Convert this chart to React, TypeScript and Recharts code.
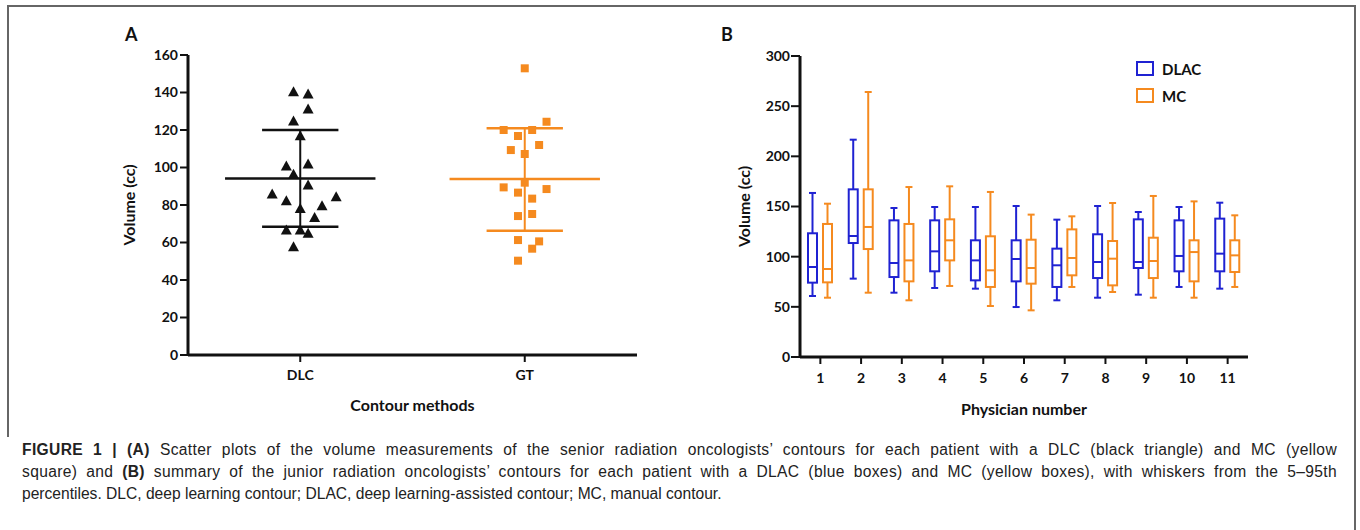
import React from "react";
import { ScatterChart, Scatter, XAxis, YAxis, ReferenceLine, BarChart, Bar, Legend } from "recharts";

const FONT = "Lato, 'Open Sans', sans-serif";
const BLUE = "#1f22d2";
const ORANGE = "#f58a1f";

// panel A: volumes per patient and horizontal jitter (category units)
const methods = ["DLC", "GT"];
const dlcVolumes = [140.4, 139.2, 131.2, 124.8, 117, 100.8, 101.9, 96.4, 90.7, 85.9, 84.4, 82.3, 79.6, 78.2, 73.4, 66.7, 66.7, 64.9, 57.8];
const dlcJitter = [-0.03, 0.035, 0.035, -0.03, 0, -0.062, 0.035, -0.03, 0.035, -0.125, 0.16, -0.062, 0.097, 0, 0.064, -0.062, 0, 0.035, -0.03];
const gtVolumes = [152.9, 124.4, 120, 120, 116.8, 112, 109.3, 107.2, 91.9, 89.4, 88.5, 86.6, 83.4, 75.2, 74.1, 61.3, 60.6, 56.7, 50.3];
const gtJitter = [0, 0.097, -0.094, 0.033, -0.03, 0.064, -0.062, 0, 0, -0.094, 0.097, -0.03, 0.033, 0.033, -0.03, -0.03, 0.064, 0.033, -0.03];
const methodMean = [94.2, 93.9];
const methodSdLow = [68.4, 66.3];
const methodSdHigh = [120, 120.9];
const volumeTicksA = [0, 20, 40, 60, 80, 100, 120, 140, 160];

// panel B: 5th pct, Q1, median, Q3, 95th pct per physician
const physicians = ["1", "2", "3", "4", "5", "6", "7", "8", "9", "10", "11"];
const dlacMin = [60.8, 78.1, 64.1, 68.8, 68.1, 49.8, 56.5, 59.1, 62.1, 69.8, 68.1];
const dlacQ1 = [74.1, 113.6, 79.7, 85.4, 76.4, 75.4, 69.8, 78.7, 88.7, 85.4, 85.4];
const dlacMedian = [89.7, 120.6, 93.7, 105.3, 96.3, 97.7, 91.4, 94.7, 94.7, 100.7, 103];
const dlacQ3 = [123.3, 167.1, 136.2, 136.2, 116.3, 116.3, 108, 122.3, 137.2, 136.2, 137.9];
const dlacMax = [163.5, 216.6, 148.5, 149.5, 149.5, 150.5, 136.9, 150.5, 144.5, 149.5, 153.8];
const mcMin = [59.1, 64.1, 56.5, 70.8, 50.8, 46.5, 69.8, 64.8, 59.1, 59.1, 69.8];
const mcQ1 = [74.4, 107.6, 75.4, 96.3, 69.8, 73.1, 81.4, 71.4, 78.7, 75.4, 84.7];
const mcMedian = [87.7, 129.6, 96.3, 116.3, 86.4, 88.7, 98.7, 98, 95.7, 104.6, 101.3];
const mcQ3 = [132.6, 167.1, 132.6, 137.2, 120.3, 116.9, 127.2, 115.6, 118.9, 116.3, 116.3];
const mcMax = [152.8, 264.1, 169.4, 170.1, 164.5, 141.9, 140.2, 153.5, 160.5, 155.1, 141.2];
const volumeTicksB = [0, 50, 100, 150, 200, 250, 300];

const dlcPoints = dlcVolumes.map((v, i) => ({ x: 0.5 + dlcJitter[i], y: v }));
const gtPoints = gtVolumes.map((v, i) => ({ x: 1.5 + gtJitter[i], y: v }));

const boxData = physicians.map((p, i) => ({
  physician: p,
  dlac: [dlacMin[i], dlacMax[i]],
  dlacBox: [dlacQ1[i], dlacMedian[i], dlacQ3[i]],
  mc: [mcMin[i], mcMax[i]],
  mcBox: [mcQ1[i], mcMedian[i], mcQ3[i]],
}));

const tickStyle = { fontFamily: FONT, fontWeight: 700, fontSize: 14, fill: "#111" };
const axisLine = { stroke: "#111", strokeWidth: 3 };
const tickLine = { stroke: "#111", strokeWidth: 2 };

const Triangle = (p: any) => {
  const { cx, cy } = p;
  return <polygon points={`${cx},${cy - 5.5} ${cx + 5.5},${cy + 4.5} ${cx - 5.5},${cy + 4.5}`} fill="#111" />;
};
const Square = (p: any) => {
  const { cx, cy } = p;
  return <rect x={cx - 4} y={cy - 4} width={8} height={8} fill={ORANGE} />;
};

const YTitle = (props: any) => {
  const { viewBox, value, dx } = props;
  const cx = viewBox.x + dx;
  const cy = viewBox.y + viewBox.height / 2;
  return (
    <text x={cx} y={cy} transform={`rotate(-90, ${cx}, ${cy})`} textAnchor="middle" dominantBaseline="central"
      style={{ fontFamily: FONT, fontWeight: 700, fontSize: 16, fill: "#111" }}>{value}</text>
  );
};
const XTitle = (props: any) => {
  const { viewBox, value, dy } = props;
  return (
    <text x={viewBox.x + viewBox.width / 2} y={viewBox.y + dy} textAnchor="middle" dominantBaseline="central"
      style={{ fontFamily: FONT, fontWeight: 700, fontSize: 16, fill: "#111" }}>{value}</text>
  );
};

const makeBox = (key: "dlac" | "mc", color: string) => (props: any) => {
  const { x, y, width, height, payload } = props;
  const [lo, hi] = payload[key];
  const [q1, med, q3] = payload[key + "Box"];
  const top = Math.min(y, y + height);
  const h = Math.abs(height);
  const toY = (v: number) => top + ((hi - v) / (hi - lo)) * h;
  const cx = x + width / 2;
  const bw = width - 2;
  return (
    <g stroke={color} strokeWidth={2} fill="none">
      <line x1={cx} x2={cx} y1={toY(hi)} y2={toY(q3)} />
      <line x1={cx} x2={cx} y1={toY(q1)} y2={toY(lo)} />
      <line x1={cx - 3.5} x2={cx + 3.5} y1={toY(hi)} y2={toY(hi)} />
      <line x1={cx - 3.5} x2={cx + 3.5} y1={toY(lo)} y2={toY(lo)} />
      <rect x={cx - bw / 2} y={toY(q3)} width={bw} height={toY(q1) - toY(q3)} fill="#fff" />
      <line x1={cx - bw / 2} x2={cx + bw / 2} y1={toY(med)} y2={toY(med)} />
    </g>
  );
};

const BoxLegend = (props: any) => {
  const items = props.payload || [];
  return (
    <div style={{ fontFamily: FONT, fontWeight: 700, fontSize: 15, color: "#111" }}>
      {items.map((it: any) => (
        <div key={it.value} style={{ display: "flex", alignItems: "center", height: 27 }}>
          <span style={{ display: "inline-block", width: 14, height: 11, border: `2.5px solid ${it.color}`, marginRight: 8 }} />
          {it.value}
        </div>
      ))}
    </div>
  );
};

function PanelA() {
  return (
    <ScatterChart width={660} height={430} margin={{ top: 55, right: 23, bottom: 17, left: 118 }}>
      <XAxis type="number" dataKey="x" domain={[0, 2]} ticks={[0.5, 1.5]} tickFormatter={(v: number) => methods[Math.round(v - 0.5)]}
        height={58} axisLine={axisLine} tickLine={tickLine} tickSize={7} tickMargin={8} tick={tickStyle}
        label={<XTitle value="Contour methods" dy={49} />} />
      <YAxis type="number" dataKey="y" domain={[0, 160]} ticks={volumeTicksA} interval={0} width={70}
        axisLine={axisLine} tickLine={tickLine} tickSize={8} tickMargin={2} tick={tickStyle}
        label={<YTitle value="Volume (cc)" dx={10} />} />
      {methods.map((m, i) => (
        <ReferenceLine key={m + "mean"} segment={[{ x: i + 0.5 - 0.335, y: methodMean[i] }, { x: i + 0.5 + 0.335, y: methodMean[i] }]}
          stroke={i === 0 ? "#111" : ORANGE} strokeWidth={2.5} />
      ))}
      {methods.map((m, i) => (
        <ReferenceLine key={m + "hi"} segment={[{ x: i + 0.5 - 0.17, y: methodSdHigh[i] }, { x: i + 0.5 + 0.17, y: methodSdHigh[i] }]}
          stroke={i === 0 ? "#111" : ORANGE} strokeWidth={2.5} />
      ))}
      {methods.map((m, i) => (
        <ReferenceLine key={m + "lo"} segment={[{ x: i + 0.5 - 0.17, y: methodSdLow[i] }, { x: i + 0.5 + 0.17, y: methodSdLow[i] }]}
          stroke={i === 0 ? "#111" : ORANGE} strokeWidth={2.5} />
      ))}
      {methods.map((m, i) => (
        <ReferenceLine key={m + "v"} segment={[{ x: i + 0.5, y: methodSdLow[i] }, { x: i + 0.5, y: methodSdHigh[i] }]}
          stroke={i === 0 ? "#111" : ORANGE} strokeWidth={2} />
      ))}
      <Scatter name="DLC" data={dlcPoints} shape={Triangle} isAnimationActive={false} />
      <Scatter name="GT" data={gtPoints} shape={Square} isAnimationActive={false} />
    </ScatterChart>
  );
}

function PanelB() {
  return (
    <BarChart width={620} height={430} data={boxData} margin={{ top: 56, right: 52, bottom: 17, left: 60 }} barSize={11} barGap={4}>
      <XAxis dataKey="physician" height={56} axisLine={axisLine} tickLine={tickLine} tickSize={7} tickMargin={9} tick={tickStyle}
        interval={0} label={<XTitle value="Physician number" dy={51} />} />
      <YAxis type="number" domain={[0, 300]} ticks={volumeTicksB} interval={0} width={60}
        axisLine={axisLine} tickLine={tickLine} tickSize={9} tickMargin={1} tick={tickStyle}
        label={<YTitle value="Volume (cc)" dx={3} />} />
      <Legend layout="horizontal" verticalAlign="middle" align="center" content={<BoxLegend />}
        wrapperStyle={{ position: "absolute", left: 456, top: 55, width: 120 }} />
      <Bar name="DLAC" dataKey="dlac" fill={BLUE} stroke={BLUE} shape={makeBox("dlac", BLUE)} isAnimationActive={false} />
      <Bar name="MC" dataKey="mc" fill={ORANGE} stroke={ORANGE} shape={makeBox("mc", ORANGE)} isAnimationActive={false} />
    </BarChart>
  );
}

export default function App() {
  const letter = { position: "absolute" as const, fontFamily: FONT, fontWeight: 700, fontSize: 18, color: "#111" };
  const justified = { width: 1315, textAlign: "justify" as const, textAlignLast: "justify" as const, letterSpacing: 0.35 };
  return (
    <div style={{ position: "absolute", left: 0, top: 0, width: 1360, height: 530, background: "#fff", overflow: "hidden" }}>
      <div style={{ position: "absolute", left: 7, top: 5, width: 1347, height: 600, borderTop: "2px solid #666", borderRight: "2px solid #666" }} />
      <div style={{ position: "absolute", left: 7, top: 5, width: 2, height: 432, background: "#666" }} />
      <div style={{ ...letter, left: 125, top: 23 }}>A</div>
      <div style={{ ...letter, left: 721, top: 23 }}>B</div>
      <div style={{ position: "absolute", left: 0, top: 0 }}><PanelA /></div>
      <div style={{ position: "absolute", left: 680, top: 0 }}><PanelB /></div>
      <div style={{ position: "absolute", left: 22, top: 439, fontFamily: "'Liberation Sans', Arial, sans-serif", fontSize: 15.6, lineHeight: "22px", color: "#222" }}>
        <div style={justified}><b>FIGURE 1 | (A)</b> Scatter plots of the volume measurements of the senior radiation oncologists’ contours for each patient with a DLC (black triangle) and MC (yellow</div>
        <div style={justified}>square) and <b>(B)</b> summary of the junior radiation oncologists’ contours for each patient with a DLAC (blue boxes) and MC (yellow boxes), with whiskers from the 5–95th</div>
        <div style={{ whiteSpace: "nowrap" }}>percentiles. DLC, deep learning contour; DLAC, deep learning-assisted contour; MC, manual contour.</div>
      </div>
    </div>
  );
}
